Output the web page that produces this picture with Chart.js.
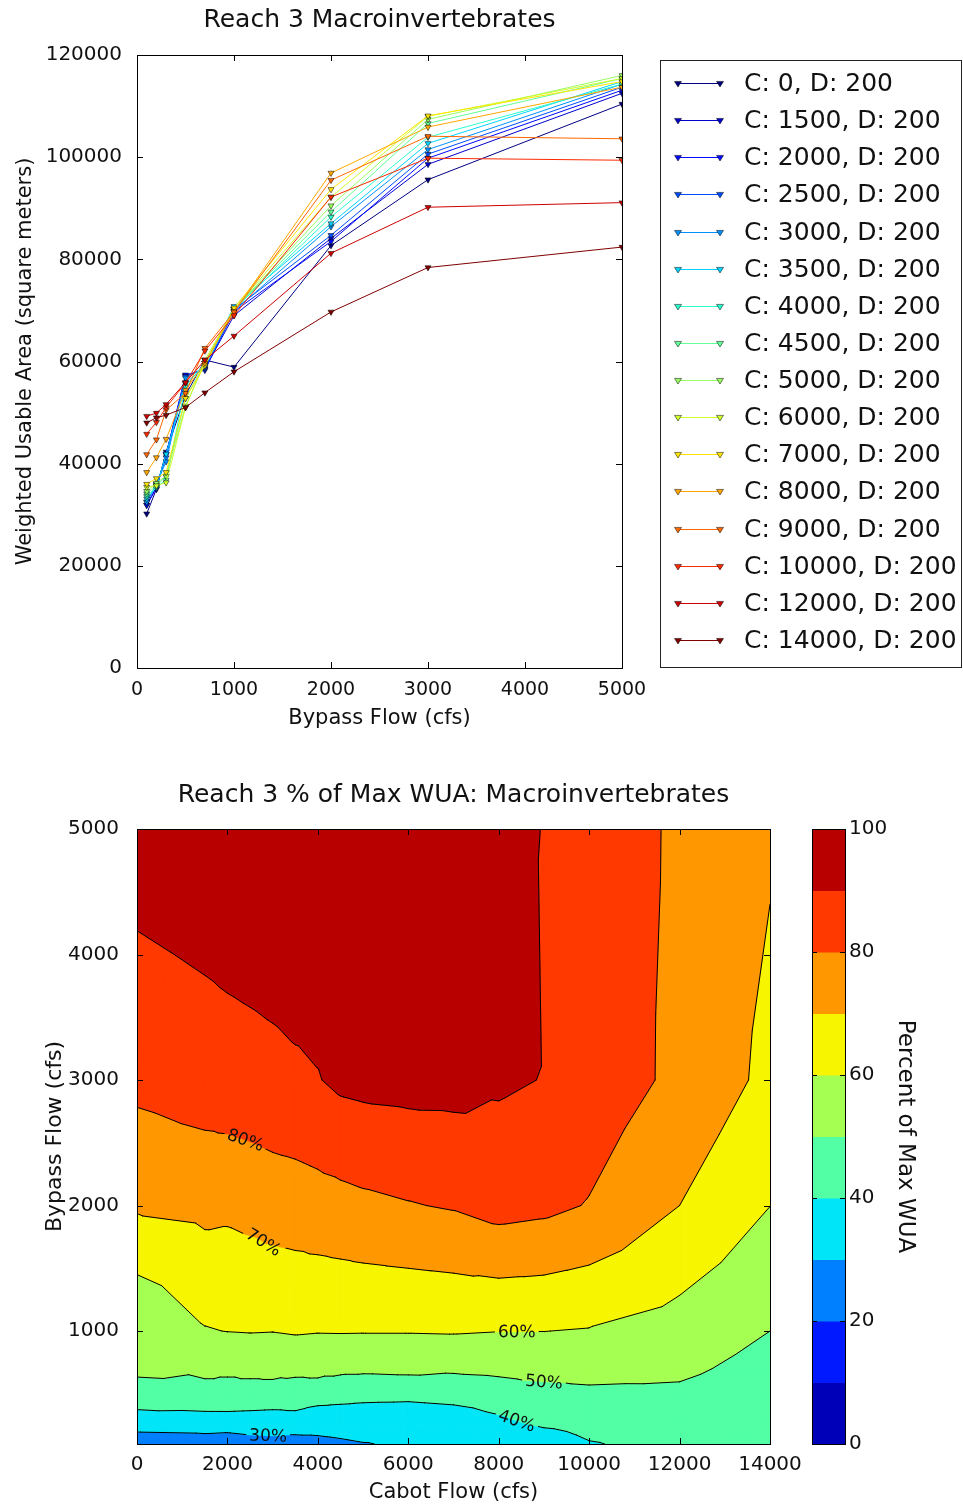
<!DOCTYPE html>
<html>
<head>
<meta charset="utf-8">
<script src="https://cdn.jsdelivr.net/npm/chart.js@4.4.1/dist/chart.umd.min.js"></script>
<style>
  html, body { margin: 0; padding: 0; background: #fff; }
  #wrap { position: relative; width: 963px; height: 1507px; overflow: hidden; }
  #wuaCanvas { position: absolute; left: 0; top: 0; }
  #pctCanvas { position: absolute; left: 0; top: 745px; }
</style>
</head>
<body>
<div id="wrap">
  <canvas id="wuaCanvas" width="963" height="745"></canvas>
  <canvas id="pctCanvas" width="963" height="762"></canvas>
</div>
<script>
//// data
const bypassFlows = [100, 200, 300, 500, 700, 1000, 2000, 3000, 5000]
const cabotFlows = [0, 1500, 2000, 2500, 3000, 3500, 4000, 4500, 5000, 6000, 7000, 8000, 9000, 10000, 12000, 14000]

// weighted usable area (square meters), one list per Cabot flow, in bypassFlows order
const wuaC0 = [30200, 35000, 42300, 53400, 60300, 58900, 82700, 95600, 110400]
const wuaC1500 = [31900, 35400, 41800, 57100, 58600, 69000, 84100, 98600, 112500]
const wuaC2000 = [31900, 35100, 41800, 57400, 58300, 69800, 83500, 99800, 113100]
const wuaC2500 = [32500, 35700, 41200, 57100, 58600, 70200, 84700, 100600, 113700]
const wuaC3000 = [32500, 36000, 40400, 56800, 58900, 69900, 86400, 101500, 114300]
const wuaC3500 = [33100, 35400, 41900, 55700, 59200, 70800, 87000, 102700, 114800]
const wuaC4000 = [33600, 35400, 36800, 55100, 59700, 70200, 88300, 103900, 114300]
const wuaC4500 = [34100, 35700, 37500, 52800, 59700, 70300, 89300, 106600, 115400]
const wuaC5000 = [34600, 36200, 37600, 51300, 59700, 70200, 90500, 107400, 116000]
const wuaC6000 = [35400, 35700, 36300, 51000, 60300, 70200, 92200, 108000, 115400]
const wuaC7000 = [36000, 37100, 38300, 52800, 59200, 70500, 93700, 108100, 114800]
const wuaC8000 = [38300, 41200, 44800, 54400, 59700, 69800, 96900, 105900, 113700]
const wuaC9000 = [41800, 44700, 50500, 53800, 62600, 69700, 95500, 104100, 103600]
const wuaC10000 = [45800, 48100, 51000, 55800, 62100, 69000, 92200, 99800, 99400]
const wuaC12000 = [49300, 49900, 51600, 55900, 60300, 65000, 81200, 90200, 91100]
const wuaC14000 = [48000, 49000, 49500, 51000, 53900, 58000, 69700, 78400, 82400]

const wuaSeries = [wuaC0, wuaC1500, wuaC2000, wuaC2500, wuaC3000, wuaC3500, wuaC4000, wuaC4500,
    wuaC5000, wuaC6000, wuaC7000, wuaC8000, wuaC9000, wuaC10000, wuaC12000, wuaC14000]
const diversionFlow = 200

// ticks
const wuaTicks = [0, 20000, 40000, 60000, 80000, 100000, 120000]
const bypassTicksTop = [0, 1000, 2000, 3000, 4000, 5000]
const bypassTicks = [1000, 2000, 3000, 4000, 5000]
const cabotTicks = [0, 2000, 4000, 6000, 8000, 10000, 12000, 14000]
const percentLevels = [0, 10, 20, 30, 40, 50, 60, 70, 80, 90, 100]
const colorbarTicks = [0, 20, 40, 60, 80, 100]

// inline contour labels: level and the Cabot flow where the label sits
const labelLevels = [30, 40, 50, 60, 70, 80]
const labelCabot = [2900, 8400, 9000, 8400, 2800, 2400]


//// helpers
Chart.defaults.font.family = '"DejaVu Sans", sans-serif'
Chart.defaults.color = '#111'

const jetStops = {
    r: [[0, 0], [0.35, 0], [0.66, 1], [0.89, 1], [1, 0.5]],
    g: [[0, 0], [0.125, 0], [0.375, 1], [0.64, 1], [0.91, 0], [1, 0]],
    b: [[0, 0.5], [0.11, 1], [0.34, 1], [0.65, 0], [1, 0]]
}
function ramp(stops, t) {
    for (let i = 1; i < stops.length; i++) {
        if (t <= stops[i][0]) {
            const [t0, v0] = stops[i - 1], [t1, v1] = stops[i]
            return v0 + (v1 - v0) * (t - t0) / (t1 - t0)
        }
    }
    return stops[stops.length - 1][1]
}
function jet(t) {
    const c = k => Math.round(255 * ramp(jetStops[k], t))
    return `rgb(${c('r')},${c('g')},${c('b')})`
}
const plain = v => String(v)

// band colours at the middle of each 10% band
const bandColors = percentLevels.slice(0, -1).map((lo, k) => jet((lo + percentLevels[k + 1]) / 200))

const maxWua = Math.max(...wuaSeries.flat())
const pctGrid = wuaSeries.map(s => s.map(v => v / maxWua * 100))


//// plugins
const frame = {
    id: 'frame',
    afterDatasetsDraw(chart) {
        const {ctx, chartArea: a, scales} = chart
        ctx.save()
        ctx.strokeStyle = '#000'
        ctx.lineWidth = 1
        const L = 6
        ctx.beginPath()
        scales.x.ticks.forEach(t => {
            const px = Math.round(scales.x.getPixelForValue(t.value)) + 0.5
            ctx.moveTo(px, a.bottom); ctx.lineTo(px, a.bottom - L)
            ctx.moveTo(px, a.top); ctx.lineTo(px, a.top + L)
        })
        scales.y.ticks.forEach(t => {
            const py = Math.round(scales.y.getPixelForValue(t.value)) + 0.5
            ctx.moveTo(a.left, py); ctx.lineTo(a.left + L, py)
            ctx.moveTo(a.right, py); ctx.lineTo(a.right - L, py)
        })
        ctx.stroke()
        ctx.strokeRect(Math.round(a.left) + 0.5, Math.round(a.top) + 0.5, Math.round(a.width), Math.round(a.height))
        ctx.restore()
    }
}

function drawTriangleDown(ctx, x, y, r, fill) {
    ctx.beginPath()
    ctx.moveTo(x - r, y - r * 0.6)
    ctx.lineTo(x + r, y - r * 0.6)
    ctx.lineTo(x, y + r)
    ctx.closePath()
    ctx.fillStyle = fill
    ctx.fill()
    ctx.lineWidth = 0.5
    ctx.strokeStyle = '#000'
    ctx.stroke()
}

const boxLegend = {
    id: 'boxLegend',
    afterDraw(chart) {
        const ctx = chart.ctx
        const left = 660, top = 60, right = 961, bottom = 667
        ctx.save()
        ctx.fillStyle = '#fff'
        ctx.fillRect(left, top, right - left, bottom - top)
        ctx.strokeStyle = '#222'
        ctx.lineWidth = 1
        ctx.strokeRect(left + 0.5, top + 0.5, right - left, bottom - top)
        const step = (640 - 83) / (chart.data.datasets.length - 1)
        chart.data.datasets.forEach((ds, i) => {
            const yy = Math.round(83 + i * step) + 0.5
            ctx.strokeStyle = ds.borderColor
            ctx.lineWidth = 1
            ctx.beginPath()
            ctx.moveTo(678, yy); ctx.lineTo(720, yy)
            ctx.stroke()
            drawTriangleDown(ctx, 678, yy, 3.5, ds.borderColor)
            drawTriangleDown(ctx, 720, yy, 3.5, ds.borderColor)
            ctx.fillStyle = '#111'
            ctx.font = '25px "DejaVu Sans"'
            ctx.textBaseline = 'middle'
            ctx.textAlign = 'left'
            ctx.fillText(ds.label, 744, yy + 1)
        })
        ctx.restore()
    }
}

// clip a polygon of {x, y, z} points against z >= level (sign 1) or z <= level (sign -1)
function clipPoly(poly, level, sign) {
    const out = []
    for (let i = 0; i < poly.length; i++) {
        const p = poly[i], q = poly[(i + 1) % poly.length]
        const pin = sign * (p.z - level) >= 0, qin = sign * (q.z - level) >= 0
        if (pin) out.push(p)
        if (pin !== qin) {
            const t = (level - p.z) / (q.z - p.z)
            out.push({x: p.x + (q.x - p.x) * t, y: p.y + (q.y - p.y) * t, z: level})
        }
    }
    return out
}

function gridTriangles(xs, ys) {
    const tris = []
    for (let i = 0; i < cabotFlows.length - 1; i++) {
        for (let j = 0; j < bypassFlows.length - 1; j++) {
            const p = [
                {x: xs[i], y: ys[j], z: pctGrid[i][j]},
                {x: xs[i + 1], y: ys[j], z: pctGrid[i + 1][j]},
                {x: xs[i + 1], y: ys[j + 1], z: pctGrid[i + 1][j + 1]},
                {x: xs[i], y: ys[j + 1], z: pctGrid[i][j + 1]}
            ]
            const c = {
                x: (xs[i] + xs[i + 1]) / 2, y: (ys[j] + ys[j + 1]) / 2,
                z: (p[0].z + p[1].z + p[2].z + p[3].z) / 4
            }
            for (let k = 0; k < 4; k++) tris.push([c, p[k], p[(k + 1) % 4]])
        }
    }
    return tris
}

const contourFill = {
    id: 'contourFill',
    beforeDatasetsDraw(chart) {
        const {ctx, chartArea: a, scales: {x, y}} = chart
        const xs = cabotFlows.map(v => x.getPixelForValue(v))
        const ys = bypassFlows.map(v => y.getPixelForValue(v))
        const tris = gridTriangles(xs, ys)

        ctx.save()
        ctx.beginPath()
        ctx.rect(a.left, a.top, a.width, a.height)
        ctx.clip()

        // filled bands, one path per band so shared edges leave no seams
        for (let k = 0; k < bandColors.length; k++) {
            ctx.beginPath()
            tris.forEach(t => {
                let poly = clipPoly(t, percentLevels[k], 1)
                if (poly.length < 3) return
                poly = clipPoly(poly, percentLevels[k + 1], -1)
                if (poly.length < 3) return
                const area = poly.reduce((s, p, n) => {
                    const q = poly[(n + 1) % poly.length]
                    return s + p.x * q.y - q.x * p.y
                }, 0)
                if (area < 0) poly.reverse()
                poly.forEach((p, n) => n ? ctx.lineTo(p.x, p.y) : ctx.moveTo(p.x, p.y))
                ctx.closePath()
            })
            ctx.fillStyle = bandColors[k]
            ctx.strokeStyle = bandColors[k]
            ctx.lineWidth = 0.6
            ctx.fill()
            ctx.stroke()
        }

        // contour line segments per level
        const segs = {}
        percentLevels.slice(1, -1).forEach(L => {
            segs[L] = []
            tris.forEach(t => {
                const pts = []
                for (let e = 0; e < 3; e++) {
                    const p = t[e], q = t[(e + 1) % 3]
                    if ((p.z >= L) !== (q.z >= L)) {
                        const f = (L - p.z) / (q.z - p.z)
                        pts.push([p.x + (q.x - p.x) * f, p.y + (q.y - p.y) * f])
                    }
                }
                if (pts.length === 2) segs[L].push([...pts[0], ...pts[1]])
            })
        })

        // inline labels
        ctx.font = '17px "DejaVu Sans"'
        const labels = []
        labelLevels.forEach((L, n) => {
            const px = x.getPixelForValue(labelCabot[n])
            const s = segs[L].find(g => Math.min(g[0], g[2]) <= px && px <= Math.max(g[0], g[2]) && g[0] !== g[2])
            if (!s) return
            const f = (px - s[0]) / (s[2] - s[0])
            const py = s[1] + (s[3] - s[1]) * f
            let ang = Math.atan2(s[3] - s[1], s[2] - s[0])
            if (ang > Math.PI / 2) ang -= Math.PI
            if (ang < -Math.PI / 2) ang += Math.PI
            const w = ctx.measureText(`${L}%`).width
            labels.push({text: `${L}%`, x: px, y: py, ang, w})
        })

        // lines, with gaps under labels
        ctx.save()
        ctx.beginPath()
        ctx.rect(a.left, a.top, a.width, a.height)
        labels.forEach(l => {
            const hw = l.w / 2 + 3, hh = 9
            const c = Math.cos(l.ang), s = Math.sin(l.ang)
            const corner = (dx, dy) => [l.x + dx * c - dy * s, l.y + dx * s + dy * c]
            const pts = [corner(-hw, -hh), corner(hw, -hh), corner(hw, hh), corner(-hw, hh)]
            ctx.moveTo(...pts[0]); pts.slice(1).forEach(p => ctx.lineTo(...p)); ctx.closePath()
        })
        ctx.clip('evenodd')
        ctx.strokeStyle = '#000'
        ctx.lineWidth = 1
        ctx.lineCap = 'round'
        ctx.beginPath()
        Object.values(segs).forEach(list => list.forEach(g => {
            ctx.moveTo(g[0], g[1]); ctx.lineTo(g[2], g[3])
        }))
        ctx.stroke()
        ctx.restore()

        ctx.fillStyle = '#111'
        ctx.textAlign = 'center'
        ctx.textBaseline = 'middle'
        labels.forEach(l => {
            ctx.save()
            ctx.translate(l.x, l.y)
            ctx.rotate(l.ang)
            ctx.fillText(l.text, 0, 1)
            ctx.restore()
        })
        ctx.restore()
    }
}

const colorbar = {
    id: 'colorbar',
    afterDraw(chart) {
        const {ctx, scales: {cb}} = chart
        const left = 812, right = 845
        ctx.save()
        for (let k = 0; k < bandColors.length; k++) {
            const y0 = cb.getPixelForValue(percentLevels[k]), y1 = cb.getPixelForValue(percentLevels[k + 1])
            ctx.fillStyle = bandColors[k]
            ctx.fillRect(left, y1, right - left, y0 - y1 + 0.5)
        }
        ctx.strokeStyle = '#000'
        ctx.lineWidth = 1
        const top = Math.round(cb.getPixelForValue(100)) + 0.5, bot = Math.round(cb.getPixelForValue(0)) + 0.5
        ctx.strokeRect(left + 0.5, top, right - left, bot - top)
        ctx.beginPath()
        colorbarTicks.forEach(v => {
            const py = Math.round(cb.getPixelForValue(v)) + 0.5
            ctx.moveTo(right, py); ctx.lineTo(right - 5, py)
            ctx.moveTo(left, py); ctx.lineTo(left + 5, py)
        })
        ctx.stroke()
        ctx.restore()
    }
}


//// charts
let wuaChart = new Chart(document.querySelector('#wuaCanvas'), {
    type: 'line',
    data: {
        datasets: wuaSeries.map((s, i) => ({
            label: `C: ${cabotFlows[i]}, D: ${diversionFlow}`,
            data: bypassFlows.map((b, j) => ({x: b, y: s[j]})),
            borderColor: jet(i / (wuaSeries.length - 1)),
            backgroundColor: jet(i / (wuaSeries.length - 1)),
            borderWidth: 1,
            pointStyle: 'triangle',
            pointRotation: 180,
            pointRadius: 3.5,
            pointBorderColor: '#000',
            pointBorderWidth: 0.5,
            tension: 0,
            order: wuaSeries.length - 1 - i
        }))
    },
    options: {
        responsive: false,
        animation: false,
        events: [],
        layout: {padding: {left: 0, right: 341, top: 0, bottom: 0}},
        scales: {
            x: {
                type: 'linear', min: 0, max: 5000,
                afterBuildTicks: s => { s.ticks = bypassTicksTop.map(v => ({value: v})) },
                afterFit: s => { s.height = 77 },
                grid: {display: false},
                border: {display: false},
                ticks: {font: {size: 19}, padding: 3, maxRotation: 0, callback: plain},
                title: {display: true, text: 'Bypass Flow (cfs)', font: {size: 21}, padding: {top: 0, bottom: 14}}
            },
            y: {
                type: 'linear', min: 0, max: 120000,
                afterBuildTicks: s => { s.ticks = wuaTicks.map(v => ({value: v})) },
                afterFit: s => { s.width = 137 },
                grid: {display: false},
                border: {display: false},
                ticks: {font: {size: 20}, padding: 7, callback: plain},
                title: {display: true, text: 'Weighted Usable Area (square meters)', font: {size: 21}, padding: {top: 13, bottom: 0}}
            }
        },
        plugins: {
            legend: {display: false},
            tooltip: {enabled: false},
            title: {
                display: true, fullSize: false,
                text: 'Reach 3 Macroinvertebrates',
                font: {size: 25, weight: 'normal'},
                color: '#111',
                padding: {top: 5, bottom: 20}
            }
        }
    },
    plugins: [frame, boxLegend]
});

wuaChart.update()


let pctChart = new Chart(document.querySelector('#pctCanvas'), {
    type: 'scatter',
    data: {
        datasets: [{label: 'Percent of Max WUA', data: [], pointRadius: 0}]
    },
    options: {
        responsive: false,
        animation: false,
        events: [],
        layout: {padding: 0},
        scales: {
            x: {
                type: 'linear', min: 0, max: 14000,
                afterBuildTicks: s => { s.ticks = cabotTicks.map(v => ({value: v})) },
                afterFit: s => { s.height = 63 },
                grid: {display: false},
                border: {display: false},
                ticks: {font: {size: 20}, padding: 1, maxRotation: 0, callback: plain},
                title: {display: true, text: 'Cabot Flow (cfs)', font: {size: 21}, padding: {top: 0, bottom: 2}}
            },
            y: {
                type: 'linear', min: 100, max: 5000,
                afterBuildTicks: s => { s.ticks = bypassTicks.map(v => ({value: v})) },
                afterFit: s => { s.width = 137 },
                grid: {display: false},
                border: {display: false},
                ticks: {font: {size: 20}, padding: 10, callback: plain},
                title: {display: true, text: 'Bypass Flow (cfs)', font: {size: 22}, padding: {top: 42, bottom: 0}}
            },
            cb: {
                type: 'linear', axis: 'y', position: 'right', min: 0, max: 100,
                afterBuildTicks: s => { s.ticks = colorbarTicks.map(v => ({value: v})) },
                afterFit: s => { s.width = 193 },
                grid: {display: true, drawOnChartArea: false, drawTicks: true, tickLength: 74, color: 'rgba(0,0,0,0)'},
                border: {display: false},
                ticks: {font: {size: 20}, padding: 5, callback: plain},
                title: {display: true, text: 'Percent of Max WUA', font: {size: 23}, padding: {top: 44, bottom: 0}}
            }
        },
        plugins: {
            legend: {display: false},
            tooltip: {enabled: false},
            title: {
                display: true, fullSize: false,
                text: 'Reach 3 % of Max WUA: Macroinvertebrates',
                font: {size: 25, weight: 'normal'},
                color: '#111',
                padding: {top: 35, bottom: 19}
            }
        }
    },
    plugins: [contourFill, frame, colorbar]
});

pctChart.update()
</script>
</body>
</html>
